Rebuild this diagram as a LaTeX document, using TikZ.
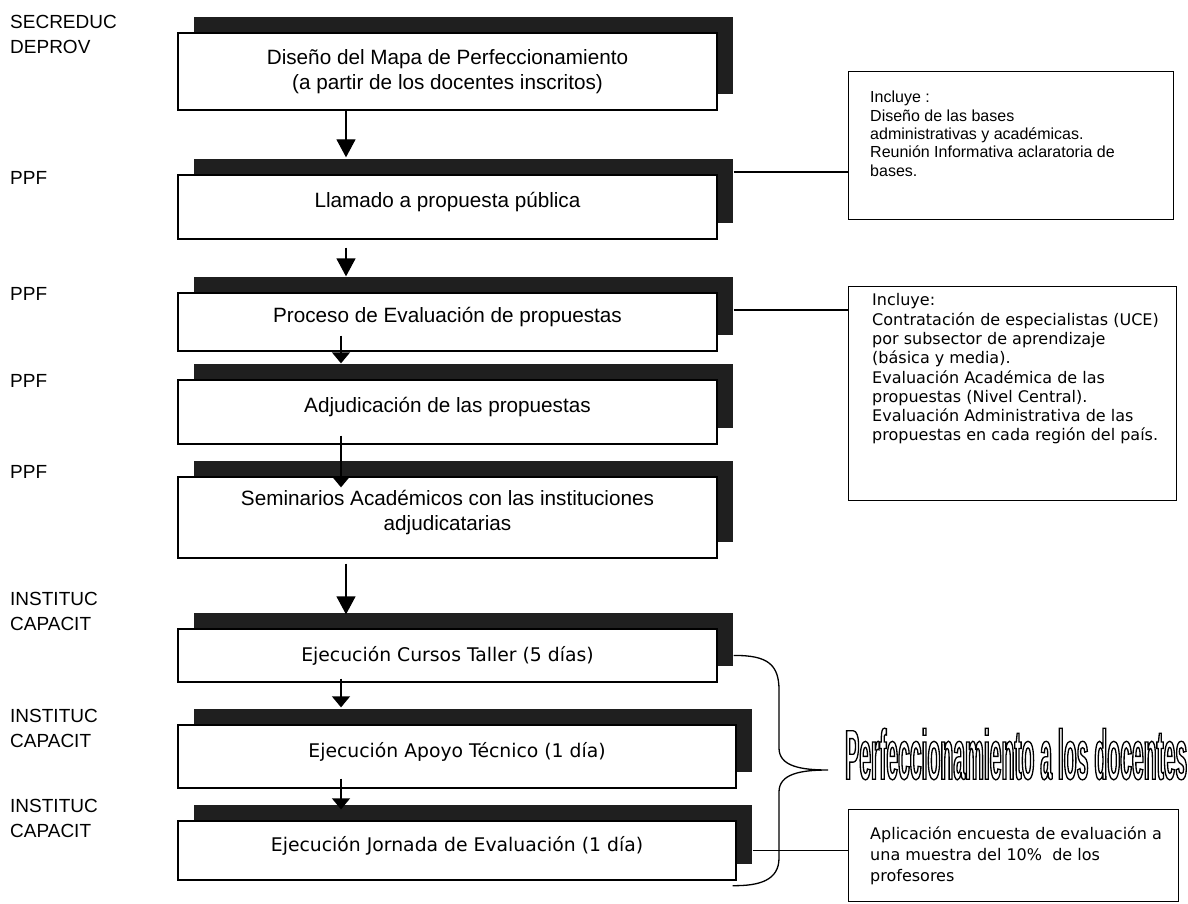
\documentclass[tikz,border=0pt]{standalone}
\usepackage{fontspec}
\usepackage{graphicx}
\setmainfont{Liberation Sans}
\newfontfamily\tahoma{DejaVu Sans}
\newfontfamily\titlefont[FakeStretch=0.3]{Liberation Sans}
\usetikzlibrary{arrows.meta,shadows,calc}
\usetikzlibrary{positioning}
\tikzset{>={Triangle[length=18pt,width=19pt]}}
% outlined, narrow title text
\newcommand{\perftitle}{\resizebox{342pt}{51pt}{\special{pdf:literal direct q 1 Tr 1.3 w}\titlefont\bfseries\fontsize{70}{70}\selectfont Perfeccionamiento a los docentes\special{pdf:literal direct Q}}}

\begin{document}
\begin{tikzpicture}[x=1pt,y=1pt,
    stage/.style={draw=black, line width=1.3pt, fill=white, minimum width=539pt, inner sep=0pt, align=center,
      font=\fontsize{20.7}{24.5}\selectfont,
      general shadow={shadow xshift=16pt, shadow yshift=16pt, fill=black!88}},
    lowtext/.style={text depth=14pt},
    tahomabox/.style={font=\tahoma\fontsize{18.8}{22}\selectfont},
    info/.style={draw=black, line width=1.3pt, fill=white, inner sep=0pt, anchor=north west},
    infotext/.style={inner sep=0pt, anchor=north west, align=left},
    actor/.style={inner sep=0pt, anchor=north west, align=left, font=\fontsize{19}{25.5}\selectfont},
    link/.style={line width=1.3pt},
    flow/.style={->, line width=1.3pt},
    shortflow/.style={-{Triangle[length=11pt,width=18pt]}, line width=1.3pt},
    node distance=3cm, on grid]
    \path[use as bounding box, fill=white] (0,0) rectangle (1188,-904);

    % who is in charge
    \node[actor] (lab1) at (10,-15) {SECREDUC\\DEPROV};
    \node[actor] (lab2) at (10,-171) {PPF};
    \node[actor] (lab3) at (10,-287) {PPF};
    \node[actor] (lab4) at (10,-374) {PPF};
    \node[actor] (lab5) at (10,-465) {PPF};
    \node[actor] (lab6) at (10,-592) {INSTITUC\\CAPACIT};
    \node[actor] (lab7) at (10,-709) {INSTITUC\\CAPACIT};
    \node[actor] (lab8) at (10,-799) {INSTITUC\\CAPACIT};

    % stages
    \node[stage, minimum height=77pt] (b1) at (447.5,-71.5) {Diseño del Mapa de Perfeccionamiento\\(a partir de los docentes inscritos)};
    \node[stage, lowtext, minimum height=64pt] (b2) [below=135.5pt of b1] {Llamado a propuesta pública};
    \node[stage, lowtext, minimum height=58pt] (b3) [below=115pt of b2] {Proceso de Evaluación de propuestas};
    \node[stage, lowtext, minimum height=64pt] (b4) [below=90pt of b3] {Adjudicación de las propuestas};
    \node[stage, lowtext, minimum height=81pt] (b5) [below=105.5pt of b4] {Seminarios Académicos con las instituciones\\adjudicatarias};
    \node[stage, tahomabox, minimum height=53pt] (b6) [below=138pt of b5] {Ejecución Cursos Taller (5 días)};
    \node[stage, tahomabox, lowtext, minimum height=63pt, minimum width=558pt] (b7) [below right=101pt and 9.5pt of b6] {Ejecución Apoyo Técnico (1 día)};
    \node[stage, tahomabox, lowtext, minimum height=59pt, minimum width=558pt] (b8) [below=94pt of b7] {Ejecución Jornada de Evaluación (1 día)};

    % notes on the right
    \node[info, minimum width=325pt, minimum height=148pt] (incA) at (848,-71) {};
    \node[infotext, font=\fontsize{16}{18.4}\selectfont] (incAtxt) at (870,-91) {Incluye :\\Diseño de las bases\\administrativas y académicas.\\Reunión Informativa aclaratoria de\\bases.};
    \node[info, minimum width=328pt, minimum height=214pt] (incB) at (848,-286) {};
    \node[infotext, font=\tahoma\fontsize{16}{19.3}\selectfont] (incBtxt) at (872,-293.5) {Incluye:\\Contratación de especialistas (UCE)\\por subsector de aprendizaje\\(básica y media).\\Evaluación Académica de las\\propuestas (Nivel Central).\\Evaluación Administrativa de las\\propuestas en cada región del país.};
    \node[info, minimum width=330pt, minimum height=92pt] (incC) at (848,-809) {};
    \node[infotext, font=\tahoma\fontsize{16}{21}\selectfont] (incCtxt) at (870,-826.5) {Aplicación encuesta de evaluación a\\una muestra del 10\%~ de los\\profesores};

    % flow arrows
    \coordinate (colA) at (346,0);
    \coordinate (colB) at (341,0);
    \draw[flow] (b1.south -| colA) -- ($(b2.north -| colA)+(0,17)$);
    \draw[flow] ($(b2.south -| colA)+(0,-8)$) -- ($(b3.north -| colA)+(0,16)$);
    \draw[shortflow] ($(b3.south -| colB)+(0,16)$) -- ($(b4.north -| colB)+(0,16)$);
    \draw[shortflow] ($(b4.south -| colB)+(0,9)$) -- ($(b5.north -| colB)+(0,-11)$);
    \draw[flow] ($(b5.south -| colA)+(0,-5)$) -- ($(b6.north -| colA)+(0,14)$);
    \draw[shortflow] ($(b6.south -| colB)+(0,4)$) -- ($(b7.north -| colB)+(0,17)$);
    \draw[shortflow] ($(b7.south -| colB)+(0,10)$) -- ($(b8.north -| colB)+(0,11)$);

    % side connectors
    \coordinate (c2) at ($(b2.east)+(16,35)$);
    \coordinate (c3) at ($(b3.east)+(16,12)$);
    \coordinate (c8) at ($(b8.east)+(16,0)$);
    \draw[link] (c2) -- (c2 -| incA.west);
    \draw[link] (c3) -- (c3 -| incB.west);
    \draw[link] (c8) -- (c8 -| incC.west);

    % brace
    \coordinate (bt) at ($(b6.east)+(16,0)$);
    \coordinate (tip) at (828,-770);
    \coordinate (bb) at ($(b8.south east)+(-4,-5)$);
    \draw[link] (bt) .. controls (768,-655) and (779,-665) .. (779,-690) -- (779,-748)
      .. controls (779,-766) and (800,-770) .. (tip)
      .. controls (800,-770) and (779,-774) .. (779,-792) -- (779,-858)
      .. controls (779,-880) and (760,-886) .. (bb);

    % title
    \node[anchor=west, inner sep=0pt] (ttl) at ($(tip)+(17,16)$) {\perftitle};
\end{tikzpicture}
\end{document}
